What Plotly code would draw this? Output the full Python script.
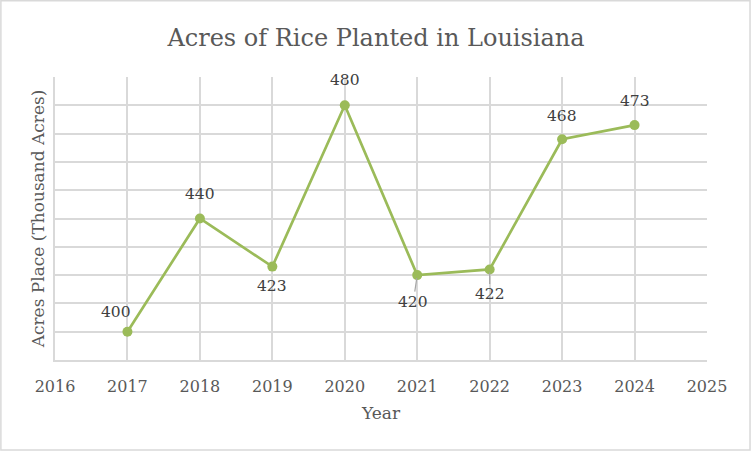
import plotly.graph_objects as go

years = [2017, 2018, 2019, 2020, 2021, 2022, 2023, 2024]
acres = [400, 440, 423, 480, 420, 422, 468, 473]
# label offsets from each point (px): right, down
label_dx = [-11, 0, 0, 0, -4, 0, 0, 0]
label_dy = [-20, -25, 19, -25, 27, 25, -23, -24]
leader = [False, False, False, False, True, True, False, False]

GREEN = "#9bbb59"
GRID = "#d9d9d9"
TEXT = "#595959"
FONT = "DejaVu Serif"

fig = go.Figure()

fig.add_trace(go.Scatter(
    x=years, y=acres,
    mode="lines+markers",
    line=dict(color=GREEN, width=2.7),
    marker=dict(color=GREEN, size=10),
    cliponaxis=False,
    showlegend=False,
))

for yr, v, dx, dy, ld in zip(years, acres, label_dx, label_dy, leader):
    if ld:
        fig.add_annotation(x=yr, y=v, text=str(v), showarrow=True,
                           ax=dx, ay=dy, arrowhead=0, arrowwidth=1.2,
                           arrowcolor="#a6a6a6", standoff=3,
                           font=dict(family=FONT, size=15.5, color="#404040"))
    else:
        fig.add_annotation(x=yr, y=v, text=str(v), showarrow=False,
                           xshift=dx, yshift=-dy,
                           font=dict(family=FONT, size=15.5, color="#404040"))

fig.update_layout(
    width=752, height=452,
    margin=dict(l=55, r=45, t=77, b=92),
    paper_bgcolor="white",
    plot_bgcolor="white",
    font=dict(family=FONT, color=TEXT),
    title=dict(text="Acres of Rice Planted in Louisiana",
               x=0.5, xanchor="center", y=0.916, yanchor="middle",
               font=dict(family=FONT, size=24, color=TEXT)),
    shapes=[dict(type="rect", xref="paper", yref="paper",
                 x0=-0.083, x1=1.066, y0=-0.318, y1=1.269,
                 line=dict(color=GRID, width=1.5))],
)

fig.update_xaxes(
    range=[2016, 2025], dtick=1, tick0=2016,
    showgrid=True, gridcolor=GRID, gridwidth=1.5,
    showline=True, linecolor=GRID, linewidth=1.5,
    ticks="", ticklabelstandoff=11,
    tickfont=dict(family=FONT, size=16, color=TEXT),
    title=dict(text="Year", font=dict(family=FONT, size=17, color=TEXT), standoff=12),
    zeroline=False,
)
fig.update_yaxes(
    range=[390, 490], dtick=10, tick0=390,
    showgrid=True, gridcolor=GRID, gridwidth=1.5,
    showline=True, linecolor=GRID, linewidth=1.5,
    showticklabels=False, ticks="",
    title=dict(text="Acres Place (Thousand Acres)",
               font=dict(family=FONT, size=17, color=TEXT), standoff=4),
    zeroline=False,
)

fig.write_html("out.html", config={"displayModeBar": False},
               post_script="document.body.style.margin='0';")
